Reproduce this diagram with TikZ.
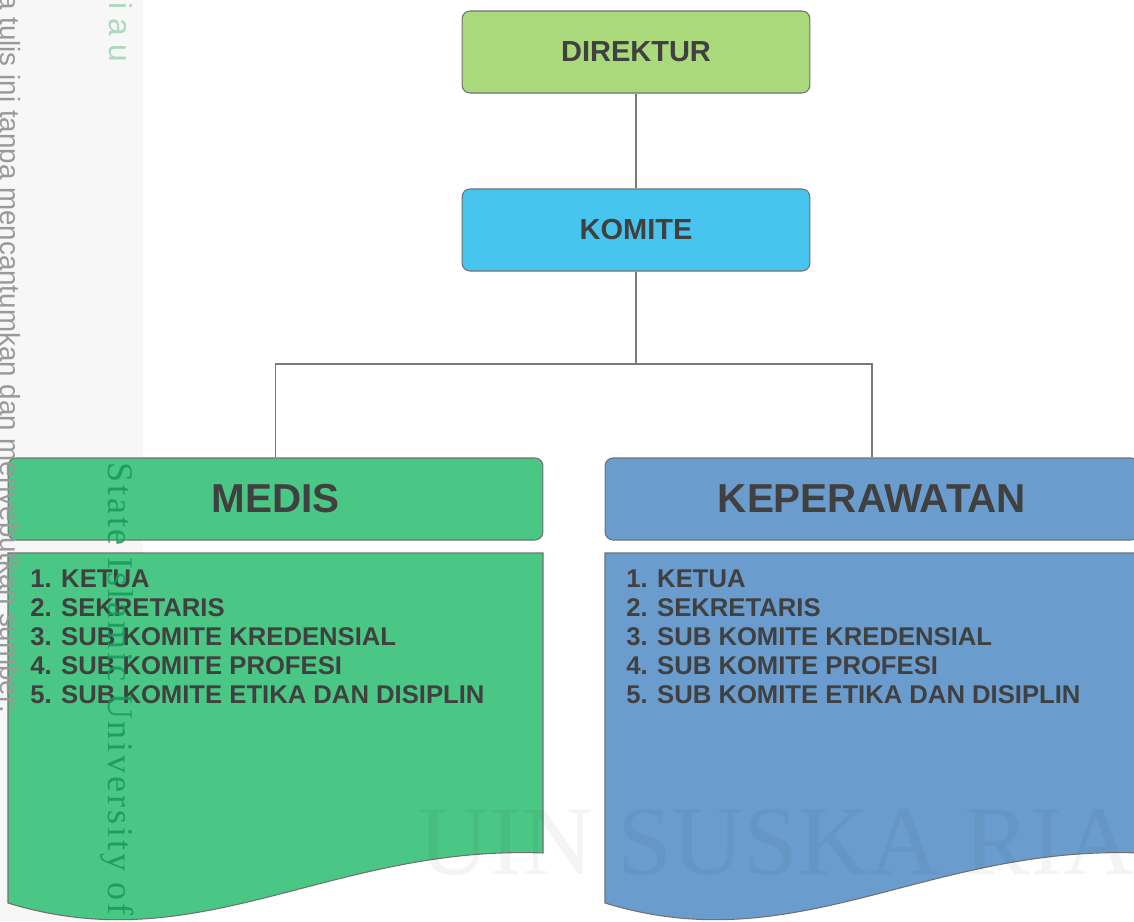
\documentclass[tikz,border=0pt]{standalone}
\usepackage{fontspec}
\setmainfont{Liberation Sans}
\newfontfamily\wmserif{Liberation Serif}
\newfontfamily\wmspaced[LetterSpace=8]{Liberation Serif}
\definecolor{dirgreen}{HTML}{A9D97B}
\definecolor{komblue}{HTML}{48C5EF}
\definecolor{medgreen}{HTML}{4BC785}
\definecolor{kepblue}{HTML}{6A9DCD}
\definecolor{txt}{HTML}{404040}
\definecolor{edge}{HTML}{707070}
\definecolor{wire}{HTML}{7A7A7A}
\definecolor{wmgreen}{HTML}{15985A}
\definecolor{wmlight}{HTML}{A9D9BE}
\tikzset{
  box/.style={draw=edge, line width=0.6pt, rounded corners=0.16cm, inner sep=0pt, text=txt},
  smallbox/.style={box, minimum width=6.96cm, minimum height=1.64cm, font=\bfseries\fontsize{16.5}{18}\selectfont},
  bigbox/.style={box, minimum height=1.64cm, font=\bfseries\fontsize{23}{26}\selectfont},
  wire/.style={draw=wire, line width=0.85pt},
  item/.style={anchor=base west, inner sep=0pt, text=txt, font=\bfseries\fontsize{14.6}{16}\selectfont},
  docshape/.style={draw=edge, line width=0.6pt},
}
\begin{document}
\begin{tikzpicture}[x=0.02cm,y=-0.02cm]
\useasboundingbox (0,0) rectangle (1134,921);
\begin{scope}
\clip (0,0) rectangle (1134,921);
% faint left strip
\fill[black!3] (0,0) rectangle (143,921);

% top boxes
\node[smallbox, fill=dirgreen] (dir) at (636,52) {DIREKTUR};
\node[smallbox, fill=komblue] (kom) at (636,230) {KOMITE};

% header boxes
\node[bigbox, fill=medgreen, minimum width=10.7cm] (medis) at (275.5,499) {MEDIS};
\node[bigbox, fill=kepblue, minimum width=10.68cm] (kep) at (872,499) {KEPERAWATAN};

% connectors
\coordinate (split) at (636,364);
\draw[wire] (dir.south) -- (kom.north);
\draw[wire] (kom.south) -- (split);
\draw[wire] (split) -| (medis.north);
\draw[wire] (split) -| (kep.north);

% document shapes
\path[docshape, fill=medgreen] (8,553) -- (543,553) -- (543,853)
  .. controls (330,845) and (200,962) .. (8,903) -- cycle;
\path[docshape, fill=kepblue] (605,553) -- (1140,553) -- (1140,853)
  .. controls (927,845) and (797,962) .. (605,903) -- cycle;

% lists
\foreach \t [count=\i] in {1. KETUA, 2. SEKRETARIS, 3. SUB KOMITE KREDENSIAL, 4. SUB KOMITE PROFESI, 5. SUB KOMITE ETIKA DAN DISIPLIN} {
  \node[item] (m\i) at (30,{587+29*(\i-1)}) {\t};
  \node[item] (k\i) at (626,{587+29*(\i-1)}) {\t};
}

% watermark texts
\node[anchor=base west, inner sep=0pt, font=\wmserif\fontsize{56}{58}\selectfont, text=black, text opacity=0.045] (wmuin) at (418,874) {UIN SUSKA RIAU};
\node[rotate=-90, anchor=base west, inner sep=0pt, font=\fontsize{15.8}{18}\selectfont, text=black!40] (wmside) at (1,-6) {a tulis ini tanpa mencantumkan dan menyebutkan sumber:};
\node[rotate=-90, anchor=base west, inner sep=0pt, font=\fontsize{18}{20}\selectfont, text=wmlight] (wmriau) at (109,2) {i a u};
\node[rotate=-90, anchor=base west, inner sep=0pt, font=\wmspaced\fontsize{20.5}{22}\selectfont, text=wmgreen, text opacity=0.85] (wmstate) at (108,462) {State Islamic University of};
\end{scope}
\end{tikzpicture}
\end{document}
